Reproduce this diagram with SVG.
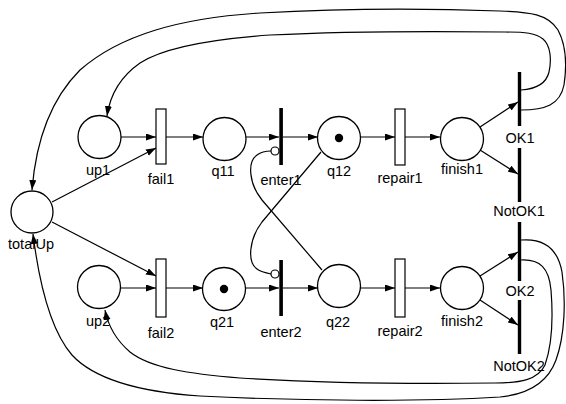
<svg xmlns="http://www.w3.org/2000/svg" width="566" height="404" viewBox="0 0 566 404">
<defs>
<marker id="ah" markerUnits="userSpaceOnUse" markerWidth="10" markerHeight="8" refX="10" refY="3.5" orient="auto">
<path d="M0,0 L10,3.5 L0,7 z" fill="#000"/>
</marker>
<style>
.place{fill:#fff;stroke:#000;stroke-width:1.3}
.trans{fill:#fff;stroke:#000;stroke-width:1.2}
.bar{fill:#000}
.tok{fill:#000}
.inh{fill:#fff;stroke:#000;stroke-width:1.2}
.arc{fill:none;stroke:#000;stroke-width:1.2}
.arr{fill:none;stroke:#000;stroke-width:1.2;marker-end:url(#ah)}
text{font-family:"Liberation Sans",Arial,sans-serif;font-size:14.5px;fill:#000;text-anchor:middle}
</style>
</defs>
<rect width="566" height="404" fill="#fff"/>

<g id="connectors">
<line class="arr" x1="121" y1="137" x2="156" y2="137"/>
<line class="arr" x1="166" y1="137" x2="203" y2="137"/>
<line class="arr" x1="246" y1="137" x2="279" y2="137"/>
<line class="arr" x1="283" y1="137" x2="318" y2="137"/>
<line class="arr" x1="360" y1="137" x2="395" y2="137"/>
<line class="arr" x1="405" y1="137" x2="440" y2="137"/>
<line class="arr" x1="480" y1="127" x2="518" y2="102"/>
<line class="arr" x1="480" y1="150" x2="518" y2="174"/>
<line class="arr" x1="52" y1="202" x2="156" y2="148"/>
<line class="arr" x1="52" y1="222" x2="156" y2="276"/>
<line class="arr" x1="121" y1="288" x2="156" y2="288"/>
<line class="arr" x1="166" y1="288" x2="203" y2="288"/>
<line class="arr" x1="246" y1="288" x2="279" y2="288"/>
<line class="arr" x1="283" y1="288" x2="318" y2="288"/>
<line class="arr" x1="360" y1="288" x2="395" y2="288"/>
<line class="arr" x1="405" y1="288" x2="440" y2="288"/>
<line class="arr" x1="480" y1="276" x2="518" y2="252"/>
<line class="arr" x1="480" y1="300" x2="518" y2="325"/>
<path class="arc" d="M322,270 L262,200 C249,184 247,162 257,155 C261,152 266,151 271,151"/>
<path class="arc" d="M321,152 L262,222 C249,239 247,262 257,269 C261,272 266,273 271,274"/>
<path class="arr" d="M521,90 C535,89 546,85 549,72 C552,58 550,45 543,39 C536,33 525,32 505,32 C420,31 330,32 270,35 C200,40 160,50 140,63 C120,77 110,95 107,116"/>
<path class="arr" d="M521,110 C545,110 560,105 564,85 C567,65 566,45 558,30 C548,14 530,12 500,11 C420,8 330,9 260,13 C180,18 120,35 80,70 C50,100 36,140 32,190"/>
<path class="arr" d="M521,260 C540,259 549,268 551,290 C553,315 552,345 545,365 C538,380 520,383 495,383 C420,384 320,383 240,378 C190,374 150,368 130,352 C116,340 108,325 105,310"/>
<path class="arr" d="M521,240 C545,238 558,250 562,272 C566,300 565,335 556,360 C548,382 530,394 500,397 C420,402 300,401 200,396 C140,392 95,380 72,355 C52,332 40,290 33,234"/>
</g>

<g id="up1"><circle class="place" cx="99.5" cy="137" r="21.5"/><text x="98" y="175">up1</text></g>
<g id="fail1"><rect class="trans" x="156" y="109" width="10" height="55"/><text x="161" y="184">fail1</text></g>
<g id="q11"><circle class="place" cx="224.5" cy="139" r="21.5"/><text x="223" y="176">q11</text></g>
<g id="enter1"><rect class="bar" x="279.3" y="108" width="3.6" height="57"/><circle class="inh" cx="275" cy="151" r="4"/><text x="281" y="185">enter1</text></g>
<g id="q12"><circle class="place" cx="339" cy="138" r="21.5"/><circle class="tok" cx="339" cy="138" r="4.2"/><text x="339" y="176">q12</text></g>
<g id="repair1"><rect class="trans" x="395" y="109" width="10" height="56"/><text x="400" y="183">repair1</text></g>
<g id="finish1"><circle class="place" cx="462" cy="139" r="21.5"/><text x="462" y="174">finish1</text></g>
<g id="OK1"><rect class="bar" x="517.8" y="72" width="3.4" height="54"/><text x="520" y="143">OK1</text></g>
<g id="NotOK1"><rect class="bar" x="517.8" y="148" width="3.4" height="54"/><text x="519" y="216">NotOK1</text></g>
<g id="totalUp"><circle class="place" cx="32" cy="212" r="21"/><text x="31" y="249">totalUp</text></g>
<g id="up2"><circle class="place" cx="99" cy="287" r="21.5"/><text x="98" y="326">up2</text></g>
<g id="fail2"><rect class="trans" x="156" y="259" width="10" height="58"/><text x="161" y="338">fail2</text></g>
<g id="q21"><circle class="place" cx="224" cy="289" r="21.5"/><circle class="tok" cx="224" cy="289" r="4.2"/><text x="222" y="327">q21</text></g>
<g id="enter2"><rect class="bar" x="279.3" y="260" width="3.6" height="56"/><circle class="inh" cx="275" cy="274" r="4"/><text x="281" y="337">enter2</text></g>
<g id="q22"><circle class="place" cx="339" cy="286" r="21.5"/><text x="338" y="327">q22</text></g>
<g id="repair2"><rect class="trans" x="395" y="259" width="10" height="58"/><text x="400" y="336">repair2</text></g>
<g id="finish2"><circle class="place" cx="462" cy="288" r="21.5"/><text x="462" y="326">finish2</text></g>
<g id="OK2"><rect class="bar" x="517.8" y="222" width="3.4" height="59"/><text x="520" y="296">OK2</text></g>
<g id="NotOK2"><rect class="bar" x="517.8" y="300" width="3.4" height="54"/><text x="519" y="371">NotOK2</text></g>
</svg>
